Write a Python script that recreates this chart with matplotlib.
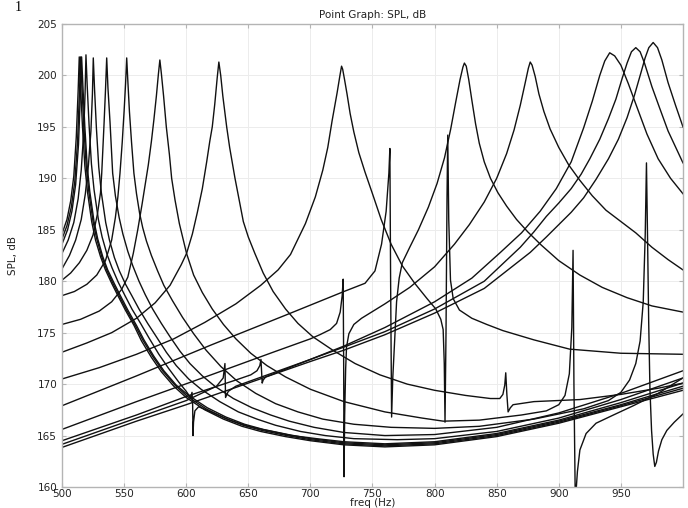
import matplotlib
matplotlib.use("Agg")
import matplotlib.pyplot as plt

# SPL sweep curves: frequency (Hz) and level (dB) per curve
c514_f = [500, 504, 507, 509.5, 511.5, 513, 513.9, 515, 516.5, 518.4, 520.5, 523.9, 527, 531, 535, 540, 545, 551, 558, 564, 572, 580, 590, 600, 615, 630, 645, 660, 680, 700, 727, 760, 800, 850, 900, 950, 1000]
c514_db = [184.6, 186.0, 187.8, 190.2, 194.0, 198.5, 201.8, 198.8, 195.0, 191.2, 188.7, 185.8, 184.0, 182.4, 181.1, 179.8, 178.6, 177.2, 175.7, 174.2, 172.6, 171.2, 169.8, 168.7, 167.5, 166.6, 165.9, 165.4, 164.9, 164.5, 164.1, 163.9, 164.1, 164.9, 166.2, 167.8, 169.4]

c515_f = [500, 504, 507.5, 510.3, 512.5, 514.1, 515.0, 516.1, 517.6, 519.5, 521.6, 525, 528, 532, 536, 541, 546, 552, 559, 565, 573, 581, 591, 601, 616, 631, 646, 661, 681, 700, 727, 760, 800, 850, 900, 950, 1000]
c515_db = [184.1, 185.4, 187.2, 189.7, 193.5, 198.5, 201.8, 198.8, 195.0, 191.2, 188.7, 185.8, 184.1, 182.4, 181.1, 179.8, 178.6, 177.2, 175.7, 174.3, 172.7, 171.3, 169.9, 168.8, 167.6, 166.7, 166.0, 165.5, 165.0, 164.6, 164.2, 164.0, 164.2, 165.0, 166.3, 167.9, 169.6]

c516_f = [500, 504.5, 508, 511, 513.3, 514.9, 515.8, 516.9, 518.4, 520.3, 522.4, 525.8, 528.8, 532.8, 536.8, 542, 547, 553, 560, 566, 574, 582, 592, 602, 617, 632, 647, 662, 682, 700, 727, 760, 800, 850, 900, 950, 1000]
c516_db = [183.6, 185.0, 186.8, 189.4, 193.3, 198.5, 201.8, 198.8, 195.0, 191.2, 188.7, 185.8, 184.1, 182.4, 181.1, 179.8, 178.6, 177.2, 175.7, 174.3, 172.7, 171.3, 169.9, 168.9, 167.7, 166.8, 166.1, 165.6, 165.1, 164.7, 164.3, 164.1, 164.3, 165.1, 166.4, 168.0, 169.8]

c519_f = [500, 505, 509.5, 513, 515.5, 517.5, 518.6, 519.3, 520.3, 521.8, 523.7, 525.8, 529.3, 532.3, 536.3, 540.3, 545.3, 550.3, 556.3, 563.3, 570, 578, 586, 594, 600, 603.5, 604.7, 605.2, 605.5, 605.9, 607, 610, 620, 635, 650, 665, 685, 705, 727, 760, 800, 850, 900, 950, 1000]
c519_db = [182.7, 184.0, 185.7, 188.0, 190.8, 194.5, 198.3, 202.0, 199.0, 195.2, 191.4, 188.9, 186.0, 184.3, 182.6, 181.3, 179.9, 178.7, 177.3, 175.9, 174.5, 172.9, 171.5, 170.2, 169.3, 168.7, 169.2, 168.0, 165.0, 166.3, 167.4, 167.8, 167.3, 166.5, 165.9, 165.5, 165.0, 164.7, 164.4, 164.2, 164.4, 165.2, 166.5, 168.2, 170.1]

c525_f = [500, 506, 511, 515.5, 518.8, 521.3, 523.3, 524.5, 525.2, 526.2, 527.7, 529.6, 531.7, 535.2, 538.2, 542.2, 546.2, 551.2, 556.2, 562, 569, 576, 584, 592, 602, 612, 627, 642, 657, 672, 692, 712, 735, 770, 800, 850, 900, 950, 1000]
c525_db = [181.2, 182.5, 184.0, 186.0, 188.5, 191.3, 194.6, 198.2, 201.7, 198.7, 194.9, 191.1, 188.6, 185.7, 184.0, 182.3, 181.0, 179.7, 178.6, 177.3, 175.9, 174.6, 173.1, 171.8, 170.5, 169.5, 168.3, 167.3, 166.6, 166.0, 165.4, 165.0, 164.7, 164.6, 164.7, 165.4, 166.7, 168.5, 170.6]

c536_f = [500, 507, 514, 520, 525, 528.5, 531, 532, 533.9, 535, 536, 537, 538.7, 540.8, 543, 546, 549, 553, 557, 562, 567, 573, 580, 587, 595, 603, 613, 623, 638, 653, 668, 683, 703, 727, 760, 800, 850, 900, 950, 1000]
c536_db = [180.1, 180.8, 181.8, 183.0, 184.5, 186.5, 188.6, 190.5, 195.4, 198.5, 201.7, 198.8, 195.4, 190.5, 188.3, 186.2, 184.6, 182.9, 181.5, 180.0, 178.7, 177.3, 175.9, 174.6, 173.2, 172.0, 170.8, 169.8, 168.6, 167.7, 167.0, 166.4, 165.8, 165.3, 165.0, 165.1, 165.8, 167.2, 169.1, 171.3]

c552_f = [500, 510, 520, 528, 535, 540, 543, 545, 546.7, 548.5, 550, 551.2, 552.1, 553, 554.3, 556, 557.9, 560, 562.5, 565, 568, 572, 577, 582, 589, 597, 606, 616, 628, 641, 656, 672, 690, 710, 735, 765, 800, 836, 880, 920, 940, 950, 957, 962, 965.5, 968, 969.6, 970.6, 971.5, 972.4, 973.4, 974.7, 976, 977.3, 978.6, 980.3, 983, 987, 993, 1000]
c552_db = [178.6, 179.0, 179.7, 180.6, 182.0, 184.0, 186.2, 188.2, 190.5, 193.5, 196.5, 199.2, 201.7, 199.5, 196.5, 193.5, 190.5, 188.5, 186.6, 185.2, 183.9, 182.5, 181.0, 179.6, 178.1, 176.5, 174.9, 173.3, 171.7, 170.3, 169.1, 168.1, 167.3, 166.6, 166.1, 165.8, 165.7, 165.9, 166.6, 167.6, 168.4, 169.2, 170.4, 172.0, 174.2, 178.0, 184.5, 191.5, 184.0, 176.0, 169.5, 165.5, 163.2, 162.0, 162.4, 163.5, 164.6, 165.5, 166.3, 167.1]

c579_f = [500, 515, 530, 540, 548, 553, 557.4, 561, 564.5, 567, 569.5, 572, 574, 576, 577.6, 578.8, 580, 581.8, 584, 586.5, 588.3, 591, 594.5, 600.3, 606, 613, 621, 630, 640, 652, 665, 680, 700, 727, 760, 790, 807, 836, 870, 890, 900, 905, 908.5, 910.5, 911.5, 912.2, 913.3, 915, 917, 922, 930, 944, 960, 980, 1000]
c579_db = [175.8, 176.3, 177.1, 178.0, 179.2, 180.4, 182.7, 185.0, 187.5, 189.4, 191.3, 193.6, 195.7, 198.0, 200.1, 201.5, 200.2, 198.0, 195.0, 192.3, 190.0, 187.9, 185.6, 182.7, 180.6, 178.9, 177.3, 175.8, 174.4, 173.0, 171.8, 170.7, 169.5, 168.3, 167.3, 166.7, 166.4, 166.5, 167.0, 167.4, 168.0, 168.9, 171.0, 175.5, 183.0, 170.0, 158.5, 161.5, 163.6, 165.2, 166.2, 167.0, 167.9, 169.1, 170.6]

c626_f = [500, 520, 540, 560, 575, 587, 596, 600.3, 605, 609, 613, 616.5, 619, 621, 623, 625, 626.3, 627.8, 629.5, 632.6, 635, 639.3, 642.5, 646, 650, 655.3, 662, 670, 680, 690, 702, 718, 736, 756, 778, 800, 825, 845, 852.5, 855, 856.5, 857.3, 858.2, 859.2, 861, 863.2, 880, 917, 950, 980, 1000]
c626_db = [173.1, 174.0, 175.0, 176.4, 177.9, 179.6, 181.6, 182.7, 184.6, 186.7, 189.0, 191.6, 193.6, 195.0, 197.2, 199.8, 201.3, 200.0, 198.0, 195.0, 193.0, 190.0, 188.0, 185.8, 184.3, 182.7, 180.8, 179.0, 177.3, 175.9, 174.6, 173.3, 172.0, 170.9, 170.0, 169.4, 168.9, 168.6, 168.6, 169.0, 169.9, 171.1, 169.0, 167.3, 167.7, 168.0, 168.3, 168.5, 169.0, 169.6, 170.1]

c725_f = [500, 530, 560, 590, 615, 640, 660, 674, 684, 696, 704, 710, 714, 717.5, 721.5, 723.8, 725.1, 726, 727.5, 729.5, 732, 735, 739, 744, 750, 757, 765, 774, 784, 794, 801, 805, 806.9, 807.8, 808.4, 809.2, 810.0, 810.6, 811.4, 812.8, 815, 820, 830, 842, 855, 880, 908.7, 950, 1000]
c725_db = [170.5, 171.6, 172.9, 174.4, 176.0, 177.8, 179.6, 181.1, 182.6, 185.6, 188.2, 190.8, 193.0, 195.6, 198.3, 200.0, 200.9, 200.6, 199.6, 198.2, 196.3, 194.5, 192.5, 190.6, 188.5, 186.0, 183.6, 181.5, 179.8, 178.3, 177.3, 176.3, 175.3, 172.0, 166.3, 175.0, 188.0, 194.2, 186.0, 180.1, 178.3, 177.2, 176.4, 175.8, 175.2, 174.3, 173.4, 173.0, 172.9]

c824_f = [500, 560, 620, 680, 727, 744, 752, 757.3, 761, 763.2, 764.0, 764.6, 765.4, 766.3, 768, 769.4, 771.5, 774, 780, 787, 795, 802, 808, 813, 817, 820.5, 822.8, 824, 825.5, 827.5, 830, 833, 836, 840, 845, 851, 858, 866, 875, 886, 900, 917, 935, 955, 975, 1000]
c824_db = [167.9, 170.8, 173.8, 176.7, 179.0, 179.8, 181.0, 183.6, 186.8, 190.5, 192.9, 180.0, 166.8, 170.5, 174.6, 178.0, 180.3, 181.8, 183.3, 185.0, 187.2, 189.5, 192.0, 194.8, 197.4, 199.6, 200.8, 201.2, 200.9, 199.6, 197.6, 195.3, 193.4, 191.6, 190.0, 188.6, 187.3, 186.0, 184.8, 183.5, 182.0, 180.6, 179.4, 178.4, 177.6, 177.0]

c877_f = [500, 560, 620, 670, 700, 707.6, 716, 721.1, 724, 725.6, 726.4, 726.8, 727.1, 727.6, 728.4, 729.1, 731, 735, 741.2, 760, 780, 800, 816, 828, 840, 850, 858, 864, 869, 873, 875.5, 877, 878.5, 881, 884, 888, 893, 900, 908, 917, 927, 938, 950, 962, 975, 988, 1000]
c877_db = [165.6, 168.3, 170.9, 173.1, 174.4, 174.8, 175.3, 175.9, 177.0, 178.6, 180.2, 172.0, 161.0, 167.0, 171.5, 173.6, 174.9, 175.8, 176.4, 177.8, 179.4, 181.4, 183.6, 185.5, 187.7, 190.0, 192.4, 194.7, 197.1, 199.3, 200.7, 201.3, 201.0, 199.9, 198.2, 196.5, 194.8, 193.0, 191.3, 189.8, 188.3, 186.9, 185.8, 184.7, 183.3, 182.1, 181.1]

c941_f = [500, 560, 600, 640, 652, 657, 659.3, 660.2, 660.8, 661.2, 662, 664, 700, 727, 760, 800, 830, 853, 870, 885, 898, 910, 920, 927, 933, 937, 941, 945, 950, 956, 963, 971, 980, 990, 1000]
c941_db = [164.5, 167.0, 168.8, 170.4, 170.9, 171.3, 171.8, 172.4, 171.0, 170.1, 170.4, 170.7, 172.4, 173.7, 175.5, 178.0, 180.3, 182.8, 184.7, 186.8, 189.0, 191.6, 194.9, 197.5, 200.0, 201.4, 202.2, 201.9, 201.0, 199.2, 196.9, 194.3, 191.9, 190.0, 188.5]

c962_f = [500, 560, 600, 624.5, 629.8, 631.2, 631.7, 633.9, 640, 700, 727, 760, 800, 840, 869, 880, 890, 900, 910, 918, 925, 933, 940, 946, 951, 955, 958.5, 962, 965.5, 969, 975, 981, 988, 1000]
c962_db = [164.15, 166.7, 168.4, 169.8, 170.6, 172.0, 168.7, 169.3, 169.8, 172.4, 173.6, 175.1, 177.3, 180.0, 183.3, 184.8, 186.3, 187.6, 189.0, 190.4, 191.9, 193.8, 195.8, 197.7, 199.7, 201.2, 202.3, 202.7, 202.3, 201.2, 198.9, 196.9, 194.6, 191.5]

c976_f = [500, 560, 600, 650, 700, 727, 760, 800, 840, 877, 890, 900, 910, 920, 930, 940, 948, 955, 961, 966, 969.5, 972.5, 976, 979.5, 983, 988, 994, 1000]
c976_db = [163.85, 166.4, 168.0, 170.1, 172.2, 173.3, 174.8, 176.9, 179.3, 182.8, 184.3, 185.5, 186.7, 188.1, 189.9, 191.9, 193.8, 195.9, 198.1, 200.2, 201.7, 202.7, 203.2, 202.7, 201.5, 199.3, 197.1, 195.0]

curves = [
    (c514_f, c514_db), (c515_f, c515_db), (c516_f, c516_db), (c519_f, c519_db),
    (c525_f, c525_db), (c536_f, c536_db), (c552_f, c552_db), (c579_f, c579_db),
    (c626_f, c626_db), (c725_f, c725_db), (c824_f, c824_db), (c877_f, c877_db),
    (c941_f, c941_db), (c962_f, c962_db), (c976_f, c976_db),
]

x_ticks = [500, 550, 600, 650, 700, 750, 800, 850, 900, 950]
y_ticks = [160, 165, 170, 175, 180, 185, 190, 195, 200, 205]

fig = plt.figure(figsize=(6.88, 5.08), dpi=100)
ax = fig.add_axes([0.0901, 0.0413, 0.9026, 0.9115])

for f, db in curves:
    ax.plot(f, db, color="#111111", lw=1.0, solid_joinstyle="round")

ax.set_xlim(500, 1000)
ax.set_ylim(160, 205)
ax.set_xticks(x_ticks)
ax.set_yticks(y_ticks)
ax.grid(True, color="#ececec", lw=0.7)
ax.set_axisbelow(True)
for s in ax.spines.values():
    s.set_color("#b4b4b4")
    s.set_linewidth(1.0)
ax.tick_params(direction="in", length=3, color="#b4b4b4", labelsize=7.5,
               labelcolor="#222222", top=True, right=True)
ax.tick_params(axis="x", pad=1.5)
ax.tick_params(axis="y", pad=3.5)

ax.set_title("Point Graph: SPL, dB", fontsize=7.5, color="#222222", pad=4)
ax.set_xlabel("freq (Hz)", fontsize=7.5, color="#222222", labelpad=-0.5)
ax.set_ylabel("SPL, dB", fontsize=7.5, color="#222222", labelpad=14)

fig.text(15 / 688, 1 - 11 / 508, "1", fontsize=10, family="Liberation Serif",
         va="baseline", ha="left")

fig.savefig("out.png", dpi=100)
